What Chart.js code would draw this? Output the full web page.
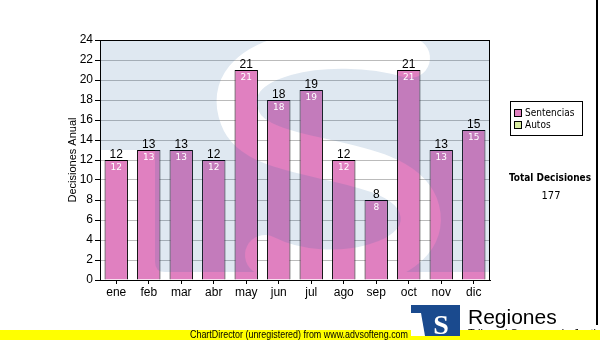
<!DOCTYPE html>
<html>
<head>
<meta charset="utf-8">
<script src="https://cdn.jsdelivr.net/npm/chart.js@4"></script>
<style>
  html, body { margin: 0; padding: 0; background: #fff; }
  #wrap { position: relative; width: 600px; height: 340px; }
</style>
</head>
<body>
<div id="wrap"><canvas id="c" width="600" height="340"></canvas></div>
<script>
const months = ["ene", "feb", "mar", "abr", "may", "jun", "jul", "ago", "sep", "oct", "nov", "dic"];
const sentencias = [12, 13, 13, 12, 21, 18, 19, 12, 8, 21, 13, 15];
const seriesNames = ["Sentencias", "Autos"];
const seriesColors = ["#e080c0", "#d8eca0"];
const yTitle = "Decisiones Anual";
const totalLabel = "Total Decisiones";
const totalValue = sentencias.reduce((a, b) => a + b, 0);

const SANS = "'Liberation Sans', Arial, sans-serif";
const DEJAVU = "'DejaVu Sans', Verdana, sans-serif";
const COND = "'DejaVu Sans Condensed', 'DejaVu Sans', sans-serif";

// light blue "TS" watermark, laid over the bars like the original
const watermark = {
  id: "watermark",
  afterDatasetsDraw(chart) {
    const { ctx, chartArea: a } = chart;
    const off = document.createElement("canvas");
    off.width = chart.width; off.height = chart.height;
    const o = off.getContext("2d");
    o.fillStyle = "rgb(40,100,160)";
    o.fillRect(a.left, a.top, a.right - a.left, 110);
    o.beginPath();
    o.moveTo(155, a.top);
    o.lineTo(a.right, a.top);
    o.lineTo(a.right, 272);
    o.lineTo(165, 272);
    o.quadraticCurveTo(155, 272, 155, 262);
    o.closePath();
    o.fill();
    o.globalCompositeOperation = "destination-out";
    o.lineWidth = 40;
    o.lineCap = "round";
    o.beginPath();
    o.moveTo(410, 58);
    o.bezierCurveTo(330, 35, 215, 55, 240, 118);
    o.bezierCurveTo(258, 168, 395, 150, 418, 205);
    o.bezierCurveTo(440, 262, 330, 288, 265, 255);
    o.stroke();
    ctx.save();
    ctx.beginPath();
    ctx.rect(a.left, a.top, a.right - a.left, a.bottom - a.top);
    ctx.clip();
    ctx.globalAlpha = 0.15;
    ctx.drawImage(off, 0, 0);
    ctx.restore();
  }
};

const decorations = {
  id: "decorations",
  afterDraw(chart) {
    const { ctx, chartArea: a } = chart;
    ctx.save();
    // plot frame
    ctx.strokeStyle = "#000";
    ctx.lineWidth = 1;
    ctx.strokeRect(a.left + 0.5, a.top + 0.5, a.right - a.left - 1, a.bottom - a.top);

    // value labels
    const meta = chart.getDatasetMeta(0);
    meta.data.forEach((bar, i) => {
      const v = sentencias[i];
      ctx.textAlign = "center";
      ctx.fillStyle = "#000";
      ctx.font = "12px " + SANS;
      ctx.textBaseline = "alphabetic";
      ctx.fillText(String(v), bar.x, bar.y - 2);
      ctx.fillStyle = "#fff";
      ctx.font = "9px " + DEJAVU;
      ctx.textBaseline = "middle";
      ctx.fillText(String(v), bar.x, bar.y + 8);
    });

    // y title
    ctx.save();
    ctx.translate(73, 160);
    ctx.rotate(-Math.PI / 2);
    ctx.fillStyle = "#000";
    ctx.font = "11px " + SANS;
    ctx.textAlign = "center";
    ctx.textBaseline = "middle";
    ctx.fillText(yTitle, 0, 0);
    ctx.restore();

    // legend
    ctx.fillStyle = "#fff";
    ctx.fillRect(510.5, 101.5, 72, 34);
    ctx.strokeStyle = "#000";
    ctx.strokeRect(510.5, 101.5, 72, 34);
    ctx.font = "10px " + COND;
    ctx.textAlign = "left";
    ctx.textBaseline = "middle";
    seriesNames.forEach((name, i) => {
      const y = 113 + i * 12;
      ctx.fillStyle = seriesColors[i];
      ctx.fillRect(514.5, y - 3.5, 7, 7);
      ctx.strokeStyle = "#000";
      ctx.strokeRect(514.5, y - 3.5, 7, 7);
      ctx.fillStyle = "#000";
      ctx.fillText(name, 525, y);
    });

    // total
    ctx.textAlign = "center";
    ctx.font = "bold 10px " + COND;
    ctx.fillText(totalLabel, 550, 178);
    ctx.font = "11px " + COND;
    ctx.fillText(String(totalValue), 551, 196);

    // right frame line
    ctx.fillStyle = "#000";
    ctx.fillRect(596, 0, 2, 325);

    // sub caption under the logo, mostly hidden by the banner
    ctx.fillStyle = "#000";
    ctx.font = "11px " + SANS;
    ctx.textAlign = "left";
    ctx.textBaseline = "alphabetic";
    ctx.fillText("Tribunal Supremo de Justicia", 468, 337);

    // bottom banner
    ctx.fillStyle = "#ffff00";
    ctx.fillRect(0, 330, 600, 10);
    ctx.fillStyle = "#000";
    ctx.font = "10px " + SANS;
    ctx.textBaseline = "middle";
    const banner = "ChartDirector (unregistered) from www.advsofteng.com";
    const bw = ctx.measureText(banner).width;
    ctx.save();
    ctx.translate(190, 335.5);
    ctx.scale(Math.min(1, 218 / bw), 1);
    ctx.fillText(banner, 0, 0);
    ctx.restore();

    // logo
    ctx.fillStyle = "#1a4a8e";
    ctx.fillRect(411, 305, 49, 31);
    ctx.fillStyle = "#fff";
    ctx.beginPath();
    ctx.moveTo(411, 313); ctx.lineTo(421, 313); ctx.lineTo(425, 336); ctx.lineTo(411, 336);
    ctx.closePath();
    ctx.fill();
    ctx.fillStyle = "#1a4a8e";
    ctx.fillRect(411, 305, 8, 8);
    ctx.fillStyle = "#fff";
    ctx.font = "bold 28px 'Liberation Serif', serif";
    ctx.textAlign = "center";
    ctx.textBaseline = "alphabetic";
    ctx.fillText("S", 441, 334);
    ctx.fillStyle = "#000";
    ctx.font = "21px " + SANS;
    ctx.textAlign = "left";
    ctx.fillText("Regiones", 468, 324);
    ctx.restore();
  }
};

new Chart(document.getElementById("c"), {
  type: "bar",
  data: {
    labels: months,
    datasets: [{
      label: seriesNames[0],
      data: sentencias,
      backgroundColor: seriesColors[0],
      borderColor: "#000",
      borderWidth: 1,
      barPercentage: 0.72,
      categoryPercentage: 1.0,
    }],
  },
  options: {
    responsive: false,
    animation: false,
    layout: { padding: { left: 0, right: 110, top: 40, bottom: 35 } },
    plugins: { legend: { display: false }, tooltip: { enabled: false } },
    scales: {
      x: {
        afterFit: (s) => { s.height = 25; },
        grid: { display: true, drawOnChartArea: false, offset: false, tickLength: 4, tickColor: "#000" },
        border: { display: true, color: "#000" },
        ticks: { color: "#000", font: { family: SANS, size: 12 }, padding: 1 },
      },
      y: {
        min: 0, max: 24,
        afterFit: (s) => { s.width = 100; },
        grid: { color: "#bbbbbb", tickColor: "#000", tickLength: 5 },
        border: { display: true, color: "#000" },
        ticks: { stepSize: 2, color: "#000", font: { family: SANS, size: 12 }, padding: 2 },
      },
    },
  },
  plugins: [watermark, decorations],
});
</script>
</body>
</html>
